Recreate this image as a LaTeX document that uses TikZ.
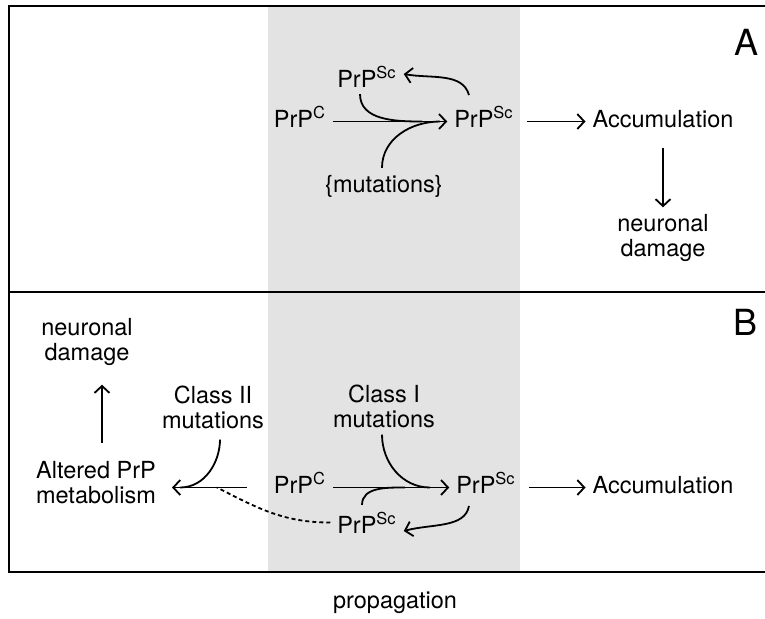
\documentclass[tikz,border=0pt]{standalone}
\usepackage{fontspec}
\setmainfont{TeX Gyre Heros}
\usetikzlibrary{arrows.meta}

\newcommand{\prpc}{PrP\textsuperscript{C}}
\newcommand{\prpsc}{PrP\textsuperscript{Sc}}

\begin{document}
\begin{tikzpicture}[x=0.5pt,y=0.5pt]

\useasboundingbox (0,0) rectangle (765,-618);

% propagation band and frame
\fill [black!11] (268,-6) rectangle (520,-572);
\draw [line width=1pt] (780,-6) -- (9,-6) -- (9,-572) -- (780,-572);
\draw [line width=1pt] (9,-292) -- (780,-292);

\begin{scope}[every node/.style={font=\fontsize{11.75}{12.5}\selectfont, align=center}]

    % panel A
    \node (LabA) at (746,-42) [font=\fontsize{18}{18}\selectfont] {A};
    \node (Scup) at (367,-87) [anchor=base] {\prpsc};
    \node (Ca) at (300,-127) [anchor=base] {\prpc};
    \node (Sca) at (484,-127) [anchor=base] {\prpsc};
    \node (Acca) at (663,-127) [anchor=base] {Accumulation};
    \node (Muta) at (384,-192) [anchor=base] {\{mutations\}};
    \node (Dmga) at (663,-238) {neuronal\\damage};

    % panel B
    \node (LabB) at (745,-322) [font=\fontsize{18}{18}\selectfont] {B};
    \node (Dmgb) at (87,-342) {neuronal\\damage};
    \node (Alt) at (96,-483) {Altered PrP\\metabolism};
    \node (ClsII) at (213,-407) {Class II\\mutations};
    \node (ClsI) at (384,-406) {Class I\\mutations};
    \node (Cb) at (300,-493) [anchor=base] {\prpc};
    \node (Scb) at (486,-493) [anchor=base] {\prpsc};
    \node (Accb) at (663,-493) [anchor=base] {Accumulation};
    \node (Scdown) at (367,-533) [anchor=base] {\prpsc};

    \node (Prop) at (395,-608) [anchor=base] {propagation};
    % \node (Prop) at (395,-580) {};
\end{scope}

\coordinate (ja1) at (422,-121.5);
\coordinate (ja2) at (440,-121.5);
\coordinate (jb1) at (405,-487.5);
\coordinate (jb2) at (430,-487.5);
\coordinate (jb3) at (180,-487.5);
\coordinate (jb4) at (217,-487.5);

\begin{scope}[>={Straight Barb[length=3.5pt,width=7.5pt]},
              every path/.style={line width=0.9pt}
]
    \path [->] ([yshift=2.75pt]Ca.base east) edge ([yshift=2.75pt]Sca.base west);
    \path [->] ([yshift=2.75pt]Sca.base east) edge [shorten <=3pt] ([yshift=2.75pt]Acca.base west);
    \path [->] (Acca.south) edge [shorten <=7pt] (Dmga.north);
    \draw ([xshift=-3.5pt]Scup.south) to [out=-90, in=180] (ja1);
    \draw ([xshift=-1pt]Muta.north) to [out=90, in=180] (ja2);
    \draw [->, shorten <=2pt] ([xshift=-7pt]Sca.north) to [out=105, in=-10] ([yshift=6.5pt]Scup.base east);

    \path [->] ([yshift=2.75pt]Cb.base east) edge ([yshift=2.75pt]Scb.base west);
    \path [->] ([yshift=2.75pt]Scb.base east) edge [shorten <=3pt] ([yshift=2.75pt]Accb.base west);
    \draw ([xshift=-1pt]ClsI.south) to [out=-90, in=180] (jb2);
    \draw ([xshift=-2.5pt]Scdown.north) to [out=90, in=180] (jb1);
    \draw [->, shorten <=3pt] ([xshift=-8pt]Scb.south) to [out=-100, in=15] ([yshift=1pt]Scdown.base east);

    \draw [->, shorten <=10pt, shorten >=4.5pt] ([yshift=2.75pt]Cb.base west) -- ([yshift=2.75pt]Cb.base west -| Alt.east);
    \draw [shorten <=2pt] ([xshift=3.5pt]ClsII.south) to [out=-90, in=0] (jb3);
    \draw [dashed, dash pattern=on 2pt off 1.5pt] (Scdown.west) to [out=180, in=-27] (jb4);
    \draw [->, shorten <=6pt, shorten >=6pt] ([xshift=3pt]Alt.north) -- ([xshift=3pt]Alt.north |- Dmgb.south);
\end{scope}

\end{tikzpicture}
\end{document}
